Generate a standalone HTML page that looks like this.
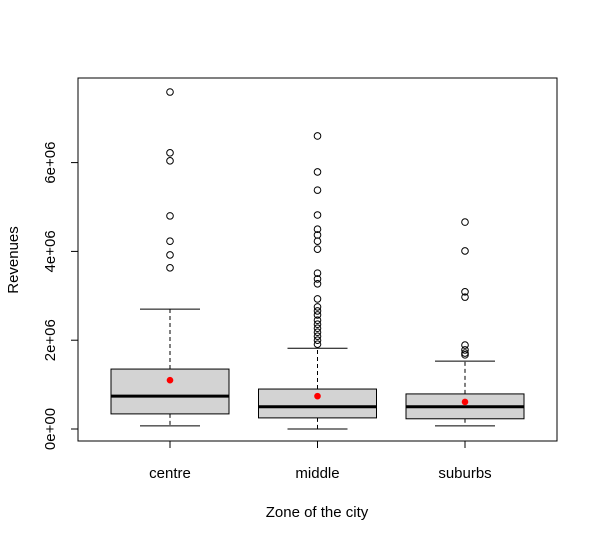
<!DOCTYPE html>
<html><head><meta charset="utf-8"><style>
body{margin:0;background:#fff}
svg{display:block;font-family:"Liberation Sans",Arial,sans-serif}
</style></head><body>
<svg id="chart" width="597" height="541" xmlns="http://www.w3.org/2000/svg"></svg>
<script>
const categories=["centre","middle","suburbs"];
const lowWhisker=[0.07,0,0.07];
const q1=[0.34,0.25,0.23];
const median=[0.74,0.50,0.50];
const q3=[1.35,0.90,0.79];
const highWhisker=[2.70,1.82,1.53];
const means=[1.10,0.74,0.61];
const outliers=[
 [7.59,6.22,6.04,4.80,4.23,3.92,3.63],
 [6.60,5.79,5.38,4.82,4.50,4.37,4.23,4.05,3.51,3.38,3.27,2.93,2.75,2.66,2.57,2.45,2.36,2.27,2.18,2.09,2.00,1.91],
 [4.66,4.01,3.09,2.97,1.89,1.78,1.71,1.67]
];
const yTicks=[0,2,4,6];
const yTickLabels=["0e+00","2e+06","4e+06","6e+06"];

const NS="http://www.w3.org/2000/svg";
const svg=document.getElementById('chart');
const L=78,R=557,T=78,B=441;
const y=v=>429-v*44.4;
const x=i=>170+i*147.5;
function mk(t,a,parent){const e=document.createElementNS(NS,t);for(const k in a)e.setAttribute(k,a[k]);(parent||svg).appendChild(e);return e;}

const frame=mk('rect',{x:L,y:T,width:R-L,height:B-T,fill:'none',stroke:'#000'});



categories.forEach((c,i)=>{
 const g=mk('g',{});
 
 
 const cx=x(i),hw=59,cw=30;
 mk('line',{x1:cx,x2:cx,y1:y(q3[i]),y2:y(highWhisker[i]),stroke:'#000','stroke-dasharray':'4,3'},g);
 mk('line',{x1:cx,x2:cx,y1:y(q1[i]),y2:y(lowWhisker[i]),stroke:'#000','stroke-dasharray':'4,3'},g);
 mk('line',{x1:cx-cw,x2:cx+cw,y1:y(highWhisker[i]),y2:y(highWhisker[i]),stroke:'#000'},g);
 mk('line',{x1:cx-cw,x2:cx+cw,y1:y(lowWhisker[i]),y2:y(lowWhisker[i]),stroke:'#000'},g);
 mk('rect',{x:cx-hw,y:y(q3[i]),width:2*hw,height:y(q1[i])-y(q3[i]),fill:'#d3d3d3',stroke:'#000'},g);
 mk('line',{x1:cx-hw,x2:cx+hw,y1:y(median[i]),y2:y(median[i]),stroke:'#000','stroke-width':3},g);
 outliers[i].forEach(v=>{
  const o=mk('circle',{cx:cx,cy:y(v),r:3.3,fill:'none',stroke:'#000'},g);
  
  
 });
 const m=mk('circle',{cx:cx,cy:y(means[i]),r:3.3,fill:'red'},g);
 
 
 mk('line',{x1:cx,x2:cx,y1:B,y2:B+7,stroke:'#000'});
 const t=mk('text',{x:cx,y:478,'text-anchor':'middle','font-size':15});
 t.textContent=c;
 
 
});
mk('line',{x1:x(0),x2:x(2),y1:B,y2:B,stroke:'#000'});
mk('line',{x1:L,x2:L,y1:y(yTicks[0]),y2:y(yTicks[yTicks.length-1]),stroke:'#000'});
yTicks.forEach((v,k)=>{
 mk('line',{x1:L-7,x2:L,y1:y(v),y2:y(v),stroke:'#000'});
 const t=mk('text',{x:0,y:0,'text-anchor':'middle','font-size':15,transform:`translate(55,${y(v)}) rotate(-90)`});
 t.textContent=yTickLabels[k];
 
 
});
const xt=mk('text',{x:317,y:517,'text-anchor':'middle','font-size':15});
xt.textContent='Zone of the city';


const yt=mk('text',{x:0,y:0,'text-anchor':'middle','font-size':15,transform:'translate(18,260) rotate(-90)'});
yt.textContent='Revenues';


</script>
</body></html>
